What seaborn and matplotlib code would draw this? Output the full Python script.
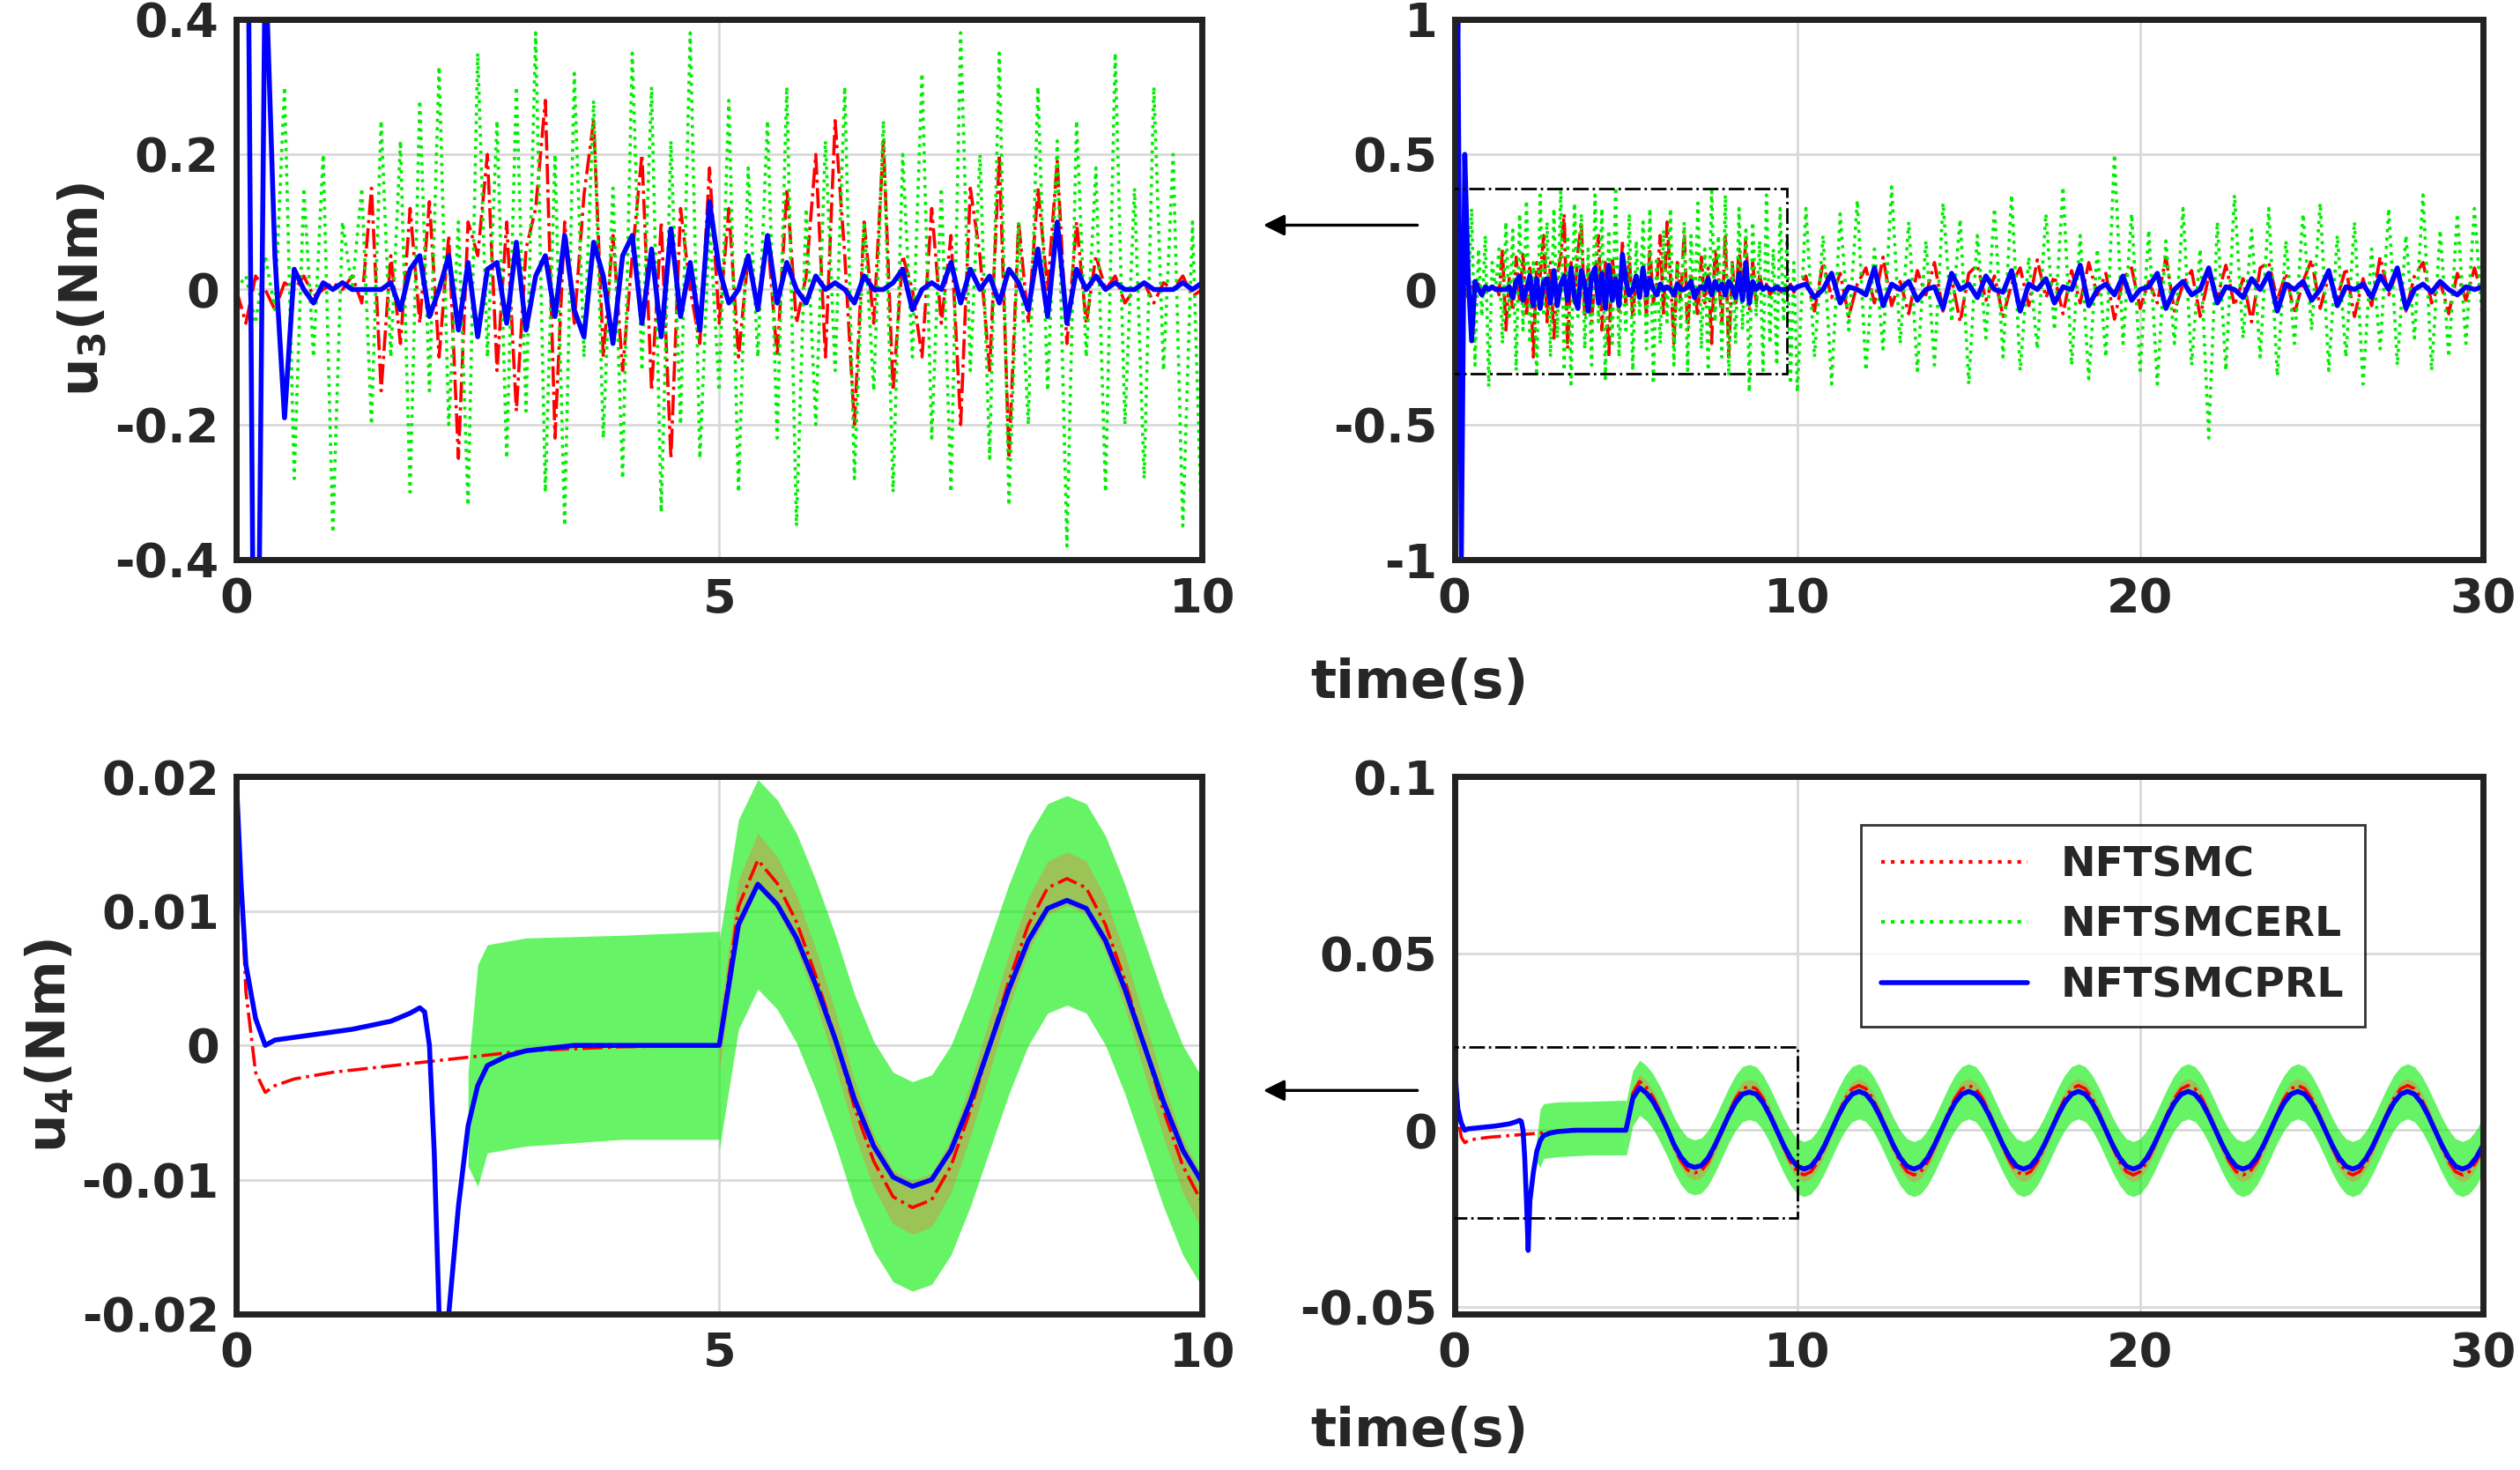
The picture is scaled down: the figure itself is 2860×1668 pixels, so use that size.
import numpy as np
import matplotlib
matplotlib.use('Agg')
import matplotlib.pyplot as plt
import seaborn as sns
from matplotlib.lines import Line2D
from matplotlib.patches import Rectangle

sns.set_theme(style="white")
plt.rcParams['font.family'] = ['DejaVu Sans']
plt.rcParams['font.weight'] = 'bold'
plt.rcParams['mathtext.default'] = 'bf'

RED, GREEN, BLUE = '#ff0000', '#00ee00', '#0000ff'

# ---- u3 data, 0-10 s (0.1 s step) ----
u3_red = [0, -0.05, 0.02, 0.0, -0.03, 0.01, 0.0, 0.02, -0.01, 0.0, 0.01, 0.0, 0.02, -0.02, 0.15, -0.15, 0.05, -0.08,
          0.12, -0.05, 0.13, -0.1, 0.08, -0.25, 0.1, 0.05, 0.2, -0.12, 0.1, -0.18, 0.06, 0.12, 0.28, -0.22, 0.1, -0.05,
          0.14, 0.25, -0.1, 0.08, -0.12, 0.05, 0.2, -0.15, 0.1, -0.25, 0.12, 0.0, -0.08, 0.18, -0.05, 0.12, -0.1, 0.05,
          -0.02, 0.08, -0.1, 0.15, -0.05, 0.02, 0.2, -0.1, 0.25, 0.05, -0.2, 0.1, -0.05, 0.22, -0.15, 0.05, 0.0, -0.1,
          0.12, -0.05, 0.08, -0.2, 0.15, 0.05, -0.12, 0.2, -0.25, 0.1, -0.05, 0.15, 0.0, 0.19, -0.08, 0.1, -0.05, 0.05,
          0.0, 0.02, -0.02, 0.0, 0.01, -0.02, 0.01, 0.0, 0.02, -0.01, 0.0]
u3_green = [0, 0.02, -0.05, 0.05, -0.03, 0.3, -0.28, 0.15, -0.1, 0.2, -0.36, 0.1, 0.0, 0.15, -0.2, 0.25, -0.1, 0.22,
            -0.3, 0.28, -0.15, 0.33, -0.2, 0.1, -0.32, 0.35, -0.1, 0.25, -0.25, 0.3, -0.18, 0.38, -0.3, 0.2, -0.35,
            0.32, -0.1, 0.28, -0.22, 0.15, -0.28, 0.35, -0.12, 0.3, -0.33, 0.22, -0.2, 0.38, -0.25, 0.1, -0.15, 0.28,
            -0.3, 0.18, -0.1, 0.25, -0.22, 0.3, -0.35, 0.12, -0.2, 0.22, -0.12, 0.3, -0.28, 0.1, -0.15, 0.25, -0.3,
            0.2, -0.1, 0.32, -0.22, 0.15, -0.3, 0.38, -0.12, 0.2, -0.25, 0.35, -0.32, 0.1, -0.2, 0.3, -0.15, 0.22,
            -0.38, 0.25, -0.1, 0.18, -0.3, 0.35, -0.2, 0.15, -0.28, 0.3, -0.12, 0.2, -0.35, 0.1, -0.38]
u3_blue = [0.4, 1.0, -1.0, 0.5, 0.05, -0.19, 0.03, 0.0, -0.02, 0.01, 0.0, 0.01, 0.0, 0.0, 0.0, 0.0, 0.01, -0.03, 0.03,
           0.05, -0.04, 0.0, 0.05, -0.06, 0.04, -0.07, 0.03, 0.04, -0.05, 0.07, -0.06, 0.02, 0.05, -0.04, 0.08, -0.03,
           -0.07, 0.07, 0.02, -0.08, 0.05, 0.08, -0.05, 0.06, -0.07, 0.09, -0.04, 0.04, -0.06, 0.13, 0.03, -0.02, 0.0,
           0.05, -0.03, 0.08, -0.02, 0.04, 0.0, -0.02, 0.02, 0.0, 0.01, 0.0, -0.02, 0.02, 0.0, 0.0, 0.01, 0.03, -0.03,
           0.0, 0.01, 0.0, 0.04, -0.02, 0.03, 0.0, 0.02, -0.02, 0.03, 0.01, -0.03, 0.06, -0.04, 0.1, -0.05, 0.03, 0.0,
           0.02, 0.0, 0.01, 0.0, 0.0, 0.01, 0.0, 0.0, 0.0, 0.01, 0.0, 0.01]
# ---- u3 data, 10-30 s (0.25 s step) ----
u3_red_ext = [0.05, -0.08, 0.1, -0.03, 0.06, -0.1, 0.02, 0.08, -0.05, 0.12, -0.06, 0.03, -0.09, 0.07, -0.02, 0.1,
              -0.08, 0.04, -0.12, 0.06, 0.09, -0.04, 0.05, -0.1, 0.02, 0.08, -0.06, 0.11, -0.03, 0.05, -0.09, 0.07,
              -0.05, 0.1, -0.02, 0.06, -0.11, 0.04, 0.08, -0.07, 0.03, -0.05, 0.12, -0.08, 0.02, 0.07, -0.1, 0.05,
              -0.03, 0.09, -0.06, 0.04, -0.12, 0.08, 0.1, -0.04, 0.06, -0.09, 0.03, 0.11, -0.07, 0.05, -0.03, 0.08,
              -0.1, 0.04, -0.06, 0.12, -0.02, 0.07, -0.08, 0.05, 0.1, -0.05, 0.03, -0.09, 0.06, -0.04, 0.08, -0.03]
u3_green_ext = [0.3, -0.25, 0.2, -0.35, 0.28, -0.15, 0.33, -0.3, 0.15, -0.22, 0.38, -0.2, 0.25, -0.3, 0.18, -0.28,
                0.32, -0.12, 0.26, -0.35, 0.2, -0.18, 0.3, -0.25, 0.35, -0.3, 0.12, -0.22, 0.28, -0.15, 0.38, -0.28,
                0.2, -0.33, 0.15, -0.25, 0.5, -0.2, 0.28, -0.3, 0.22, -0.35, 0.18, -0.2, 0.3, -0.28, 0.15, -0.55,
                0.25, -0.3, 0.35, -0.18, 0.22, -0.25, 0.3, -0.32, 0.18, -0.2, 0.28, -0.15, 0.32, -0.3, 0.2, -0.25,
                0.25, -0.35, 0.15, -0.22, 0.3, -0.28, 0.2, -0.18, 0.35, -0.3, 0.22, -0.25, 0.28, -0.2, 0.3, -0.15]
u3_blue_ext = [0.02, -0.03, 0.0, 0.06, -0.05, 0.01, 0.0, -0.02, 0.08, -0.06, 0.02, 0.0, 0.03, -0.04, 0.0, 0.01,
               -0.07, 0.06, 0.0, 0.02, -0.03, 0.05, 0.0, -0.01, 0.07, -0.08, 0.02, 0.0, 0.04, -0.05, 0.01, 0.0, 0.09,
               -0.06, 0.0, 0.02, -0.02, 0.05, -0.04, 0.0, 0.01, 0.06, -0.07, 0.0, 0.03, -0.02, 0.0, 0.08, -0.05, 0.01,
               0.0, -0.03, 0.04, 0.0, 0.06, -0.08, 0.02, 0.0, 0.03, -0.04, 0.0, 0.07, -0.06, 0.01, 0.0, 0.02, -0.03,
               0.05, 0.0, 0.08, -0.07, 0.0, 0.02, -0.01, 0.03, 0.0, -0.02, 0.01, 0.0, 0.01]

# ---- u4 data, 0-5 s ----
u4_blue_t0 = [0, 0.05, 0.1, 0.2, 0.3, 0.4, 0.6, 0.8, 1.0, 1.2, 1.4, 1.6, 1.8, 1.9, 1.95, 2.0, 2.05, 2.1, 2.15, 2.2,
              2.3, 2.4, 2.5, 2.6, 2.8, 3.0, 3.5, 4.0, 4.5, 4.98]
u4_blue_v0 = [0.02, 0.012, 0.006, 0.002, 0.0, 0.0004, 0.0006, 0.0008, 0.001, 0.0012, 0.0015, 0.0018, 0.0024, 0.0028,
              0.0025, 0.0, -0.008, -0.02, -0.034, -0.02, -0.012, -0.006, -0.003, -0.0015, -0.0008, -0.0004, 0.0,
              0.0, 0.0, 0.0]
u4_red_t0 = [0, 0.05, 0.1, 0.2, 0.3, 0.4, 0.6, 1.0, 1.5, 2.0, 2.5, 3.0, 4.0, 5.0]
u4_red_v0 = [0.02, 0.012, 0.004, -0.002, -0.0035, -0.003, -0.0025, -0.002, -0.0016, -0.0012, -0.0008, -0.0004,
             -0.0001, 0.0]
u4_green_t0 = [2.4, 2.5, 2.6, 3.0, 4.0, 5.0]
u4_green_hi0 = [-0.002, 0.006, 0.0075, 0.008, 0.0082, 0.0085]
u4_green_lo0 = [-0.009, -0.0105, -0.008, -0.0075, -0.007, -0.007]
# ---- u4 data, 5-30 s (0.2 s step) ----
u4_blue_sine = [0.0, 0.009, 0.012, 0.0105, 0.008, 0.0045, 0.0005, -0.004, -0.0075, -0.0098, -0.0105, -0.01, -0.0078,
                -0.0042, 0.0, 0.0042, 0.0078, 0.0102, 0.0108,
                0.0102, 0.0078, 0.0042, 0.0, -0.0042, -0.0078, -0.0102, -0.011, -0.0102, -0.0078, -0.0042, 0.0, 0.0042, 0.0078, 0.0102, 0.011,
                0.0102, 0.0078, 0.0042, 0.0, -0.0042, -0.0078, -0.0102, -0.011, -0.0102, -0.0078, -0.0042, 0.0, 0.0042, 0.0078, 0.0102, 0.011,
                0.0102, 0.0078, 0.0042, 0.0, -0.0042, -0.0078, -0.0102, -0.011, -0.0102, -0.0078, -0.0042, 0.0, 0.0042, 0.0078, 0.0102, 0.011,
                0.0102, 0.0078, 0.0042, 0.0, -0.0042, -0.0078, -0.0102, -0.011, -0.0102, -0.0078, -0.0042, 0.0, 0.0042, 0.0078, 0.0102, 0.011,
                0.0102, 0.0078, 0.0042, 0.0, -0.0042, -0.0078, -0.0102, -0.011, -0.0102, -0.0078, -0.0042, 0.0, 0.0042, 0.0078, 0.0102, 0.011,
                0.0102, 0.0078, 0.0042, 0.0, -0.0042, -0.0078, -0.0102, -0.011, -0.0102, -0.0078, -0.0042, 0.0, 0.0042, 0.0078, 0.0102, 0.011,
                0.0102, 0.0078, 0.0042, 0.0, -0.0042, -0.0078, -0.0102, -0.011, -0.0102, -0.0078, -0.0042]
green_halfwidth = 0.0078
red_gain = 1.15
red_halfwidth = 0.002

legend_labels = ['NFTSMC', 'NFTSMCERL', 'NFTSMCPRL']

t3 = np.linspace(0, 10, len(u3_blue))
t3r = np.linspace(0, 10, len(u3_red))
t3g = np.linspace(0, 10, len(u3_green))
t3e = np.linspace(10.25, 30, len(u3_blue_ext))
ts = np.linspace(5, 30, len(u4_blue_sine))
bs = np.array(u4_blue_sine)

fig = plt.figure(figsize=(14.3, 8.34), dpi=200)
W, H = 1568, 914
def add_ax(x0, y0, x1, y1):
    return fig.add_axes([x0 / W, 1 - y1 / H, (x1 - x0) / W, (y1 - y0) / H])

ax1 = add_ax(147, 12, 748, 348)
ax2 = add_ax(905, 12, 1545, 348)
ax3 = add_ax(147, 483, 748, 817)
ax4 = add_ax(905, 483, 1545, 817)

def draw_u3(ax, full):
    tr, vr = list(t3r), list(u3_red)
    tg, vg = list(t3g), list(u3_green)
    tb, vb = list(t3), list(u3_blue)
    if full:
        tr += list(t3e); vr += u3_red_ext
        tg += list(np.linspace(10.25, 30, len(u3_green_ext))); vg += u3_green_ext
        tb += list(t3e); vb += u3_blue_ext
    sns.lineplot(x=tr, y=vr, ax=ax, color=RED, linestyle='-.', lw=1.3, sort=False)
    sns.lineplot(x=tg, y=vg, ax=ax, color=GREEN, linestyle=':', lw=1.3, sort=False)
    sns.lineplot(x=tb, y=vb, ax=ax, color=BLUE, lw=2, sort=False)

def draw_u4(ax):
    ax.fill_between(u4_green_t0, u4_green_lo0, u4_green_hi0, color=GREEN, alpha=0.6, lw=0)
    ax.fill_between(ts, bs - green_halfwidth, bs + green_halfwidth, color=GREEN, alpha=0.6, lw=0)
    ax.fill_between(ts, bs * red_gain - red_halfwidth, bs * red_gain + red_halfwidth, color='#ff6a3a', alpha=0.35, lw=0)
    sns.lineplot(x=u4_red_t0, y=u4_red_v0, ax=ax, color=RED, linestyle='-.', lw=1.3, sort=False)
    sns.lineplot(x=ts, y=bs * red_gain, ax=ax, color=RED, linestyle='-.', lw=1.3, sort=False)
    sns.lineplot(x=u4_blue_t0, y=u4_blue_v0, ax=ax, color=BLUE, lw=2, sort=False)
    sns.lineplot(x=ts, y=bs, ax=ax, color=BLUE, lw=2, sort=False)

draw_u3(ax1, False)
draw_u3(ax2, True)
draw_u4(ax3)
draw_u4(ax4)

ax1.set(xlim=(0, 10), ylim=(-0.4, 0.4), xticks=[0, 5, 10], yticks=[-0.4, -0.2, 0, 0.2, 0.4])
ax1.set_yticklabels(['-0.4', '-0.2', '0', '0.2', '0.4'])
ax2.set(xlim=(0, 30), ylim=(-1, 1), xticks=[0, 10, 20, 30], yticks=[-1, -0.5, 0, 0.5, 1])
ax2.set_yticklabels(['-1', '-0.5', '0', '0.5', '1'])
ax3.set(xlim=(0, 10), ylim=(-0.02, 0.02), xticks=[0, 5, 10], yticks=[-0.02, -0.01, 0, 0.01, 0.02])
ax3.set_yticklabels(['-0.02', '-0.01', '0', '0.01', '0.02'])
ax4.set(xlim=(0, 30), ylim=(-0.052, 0.1), xticks=[0, 10, 20, 30], yticks=[-0.05, 0, 0.05, 0.1])
ax4.set_yticklabels(['-0.05', '0', '0.05', '0.1'])

for ax in (ax1, ax2, ax3, ax4):
    ax.grid(True, color='#d9d9d9', lw=1)
    ax.set_axisbelow(True)
    for s in ax.spines.values():
        s.set_color('#222222'); s.set_linewidth(2.5)
    ax.tick_params(direction='in', length=5, width=1.5, labelsize=19.5, pad=7)
    for lab in ax.get_xticklabels() + ax.get_yticklabels():
        lab.set_fontweight('bold')
    ax.set_xlabel(''); ax.set_ylabel('')

ax1.set_ylabel(r'$\mathbf{u_3}$(Nm)', fontsize=22, fontweight='bold', labelpad=2)
ax3.set_ylabel(r'$\mathbf{u_4}$(Nm)', fontsize=22, fontweight='bold', labelpad=2)
fig.text(883 / W, 1 - 425 / H, 'time(s)', ha='center', va='center', fontsize=22, fontweight='bold')
fig.text(883 / W, 1 - 890 / H, 'time(s)', ha='center', va='center', fontsize=22, fontweight='bold')

# zoom boxes
ax2.add_patch(Rectangle((-0.3, -0.31), 10.0, 0.685, fill=False, ls='-.', lw=1, ec='black', zorder=5))
ax4.add_patch(Rectangle((-0.1, -0.0248), 10.1, 0.0484, fill=False, ls='-.', lw=1, ec='black', zorder=5))

for y in (140, 678):
    fig.add_artist(matplotlib.patches.FancyArrowPatch((885 / W, 1 - y / H), (783 / W, 1 - y / H),
                   transform=fig.transFigure, arrowstyle='-|>', mutation_scale=18, lw=1.2, color='black'))

handles = [Line2D([], [], color=RED, ls=':', lw=1.5),
           Line2D([], [], color=GREEN, ls=':', lw=1.5),
           Line2D([], [], color=BLUE, ls='-', lw=2)]
leg = ax4.legend(handles, legend_labels, loc='upper right', bbox_to_anchor=(0.905, 0.95), fontsize=17,
                 frameon=True, fancybox=False, edgecolor='black', handlelength=3.5, borderpad=0.5,
                 labelspacing=0.5)
leg.get_frame().set_linewidth(1)
for t in leg.get_texts():
    t.set_fontweight('bold')

fig.savefig('out.png', dpi=200, facecolor='white')
